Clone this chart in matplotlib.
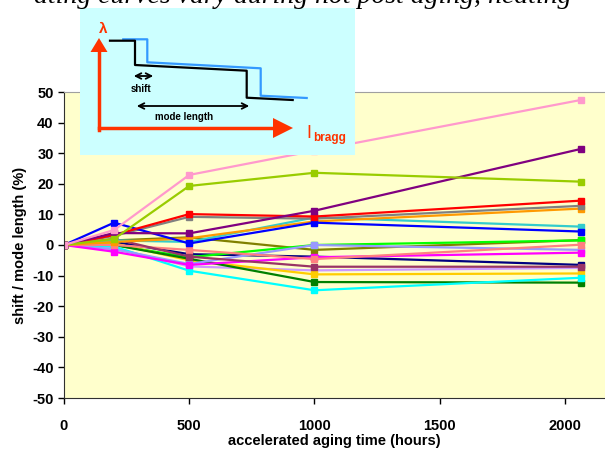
import numpy as np
import matplotlib
matplotlib.use('Agg')
import matplotlib.pyplot as plt

plt.rcParams['font.family'] = ['Liberation Sans', 'DejaVu Sans']
plt.rcParams['axes.unicode_minus'] = False

# aging times (hours)
hours = [0, 200, 500, 1000, 2064]

# shift / mode length (%) per sample
pink = [0, 4.9, 22.9, 30.8, 47.4]
yellowgreen = [0, 2.0, 19.3, 23.6, 20.7]
purple = [0, 3.9, 3.8, 11.2, 31.4]
red = [0, 3.3, 10.1, 9.3, 14.5]
gray = [0, 3.0, 9.2, 8.6, 12.8]
orange = [0, 1.0, 2.2, 7.7, 11.9]
teal = [0, 1.5, 1.0, 9.0, 6.0]
blue = [0, 7.3, 0.5, 7.3, 4.4]
olive = [0, 1.5, 2.5, -1.6, 1.6]
green = [0, 0.0, -4.0, 0.0, 1.5]
salmon = [0, 0.0, -1.6, -4.6, 0.1]
lavender = [0, -1.4, -6.2, 0.0, -1.6]
magenta = [0, -2.2, -6.5, -4.0, -2.5]
navy = [0, 1.0, -3.0, -3.8, -6.5]
plum = [0, 2.0, -3.8, -7.1, -7.1]
lightpurple = [0, -1.0, -7.0, -8.3, -7.5]
gold = [0, 0.5, -5.0, -9.6, -9.3]
cyan = [0, -0.5, -8.4, -14.8, -10.7]
darkgreen = [0, 0.0, -4.5, -12.1, -12.3]

series = [
    (navy, '#000080'), (olive, '#808000'), (green, '#00FF00'),
    (lightpurple, '#CC99FF'), (gold, '#FFCC00'), (darkgreen, '#008000'),
    (cyan, '#00FFFF'), (lavender, '#9999FF'), (magenta, '#FF00FF'),
    (salmon, '#FF8080'), (plum, '#993366'), (teal, '#33CCCC'),
    (orange, '#FF9900'), (gray, '#808080'), (blue, '#0000FF'),
    (red, '#FF0000'), (purple, '#800080'), (yellowgreen, '#99CC00'),
    (pink, '#FF99CC'),
]

fig = plt.figure(figsize=(6.05, 4.57), dpi=100)
ax = fig.add_axes([64 / 605, 1 - 398 / 457, 1 - 64 / 605, 306 / 457])
ax.set_facecolor('#FFFFCC')

for vals, col in series:
    ax.plot(hours, vals, color=col, lw=1.6, marker='s', ms=4.5,
            markeredgecolor=col, solid_joinstyle='miter')

ax.set_xlim(0, 2160)
ax.set_ylim(-50, 50)
ax.set_xticks([0, 500, 1000, 1500, 2000])
ax.set_yticks(np.arange(-50, 51, 10))
ax.tick_params(axis='both', labelsize=10.5, direction='out', length=4, width=1)
for lab in ax.get_xticklabels() + ax.get_yticklabels():
    lab.set_fontweight('bold')
ax.tick_params(axis='x', pad=11)
ax.spines['right'].set_visible(False)
ax.spines['top'].set_color('#A0A0A0')
ax.spines['left'].set_color('#303030')
ax.spines['bottom'].set_color('#303030')
ax.set_xlabel('accelerated aging time (hours)', fontsize=10.5, fontweight='bold', labelpad=1)
ax.set_ylabel('shift / mode length (%)', fontsize=10.5, fontweight='bold', labelpad=4)

# caption cut off at the top of the picture (only its lower edge shows)
fig.text(0.5, 1 - 3 / 457, 'ating curves vary during hot post aging, heating',
         fontsize=20, family='Liberation Serif', style='italic', ha='center', va='baseline')

# inset sketch (drawn in pixel coordinates of the picture)
ins = fig.add_axes([80 / 605, 1 - 155 / 457, 275 / 605, 147 / 457])
ins.set_facecolor('#CCFFFF')
ins.set_xlim(80, 355)
ins.set_ylim(155, 8)
ins.set_xticks([])
ins.set_yticks([])
for s in ins.spines.values():
    s.set_visible(False)

red_c = '#FF3300'
ins.plot([99, 99], [130, 50], color=red_c, lw=2.5)
ins.fill([90.5, 107.5, 99], [52, 52, 38], color=red_c, lw=0)
ins.plot([99, 276], [128, 128], color=red_c, lw=2.5)
ins.fill([273, 273, 293], [118, 138, 128], color=red_c, lw=0)
ins.text(103, 29, 'λ', color=red_c, fontsize=11, fontweight='bold', ha='center', va='center')
ins.text(306, 134, 'I', color=red_c, fontsize=13, ha='left', va='center')
ins.text(313, 138, 'bragg', color=red_c, fontsize=8.5, fontweight='bold', ha='left', va='center')

ins.plot([123.3, 147.3, 147.3, 260.7, 260.7, 306.7],
         [39.3, 39.3, 62.3, 68.3, 95.7, 98], color='#3399FF', lw=1.6)
ins.plot([110, 135, 135, 246.7, 246.7, 292.7],
         [40.7, 40.7, 65, 70.7, 97.7, 100], color='black', lw=1.6)

ins.annotate('', xy=(131, 76), xytext=(156, 76),
             arrowprops=dict(arrowstyle='<->', color='black', lw=1.3))
ins.text(141, 89, 'shift', fontsize=7, fontweight='bold', ha='center', va='center')
ins.annotate('', xy=(134, 106), xytext=(252, 106),
             arrowprops=dict(arrowstyle='<->', color='black', lw=1.3))
ins.text(184, 117, 'mode length', fontsize=7, fontweight='bold', ha='center', va='center')

fig.savefig('out.png', dpi=100)
